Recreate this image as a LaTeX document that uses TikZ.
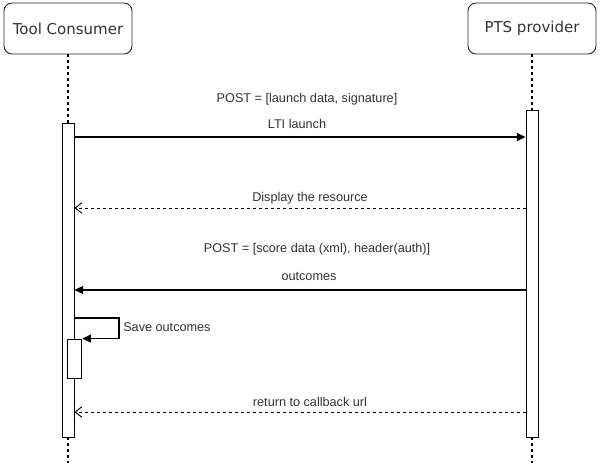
\documentclass[tikz,border=0pt]{standalone}
\usepackage{fontspec}
\setmainfont{Liberation Sans}
\newfontfamily\boxfont{DejaVu Sans}
\usepackage{tikz}
\usetikzlibrary{arrows.meta,positioning}
\definecolor{txtgrey}{rgb}{0.2,0.2,0.2}
\tikzset{
  actor/.style={rectangle,rounded corners=6pt,draw=black!85,line width=0.7pt,minimum width=96pt,minimum height=38.25pt,font=\boxfont\fontsize{11.25}{13}\selectfont,text=txtgrey},
  act/.style={rectangle,draw=black,line width=0.7pt,fill=white,minimum width=9pt,inner sep=0pt},
  life/.style={draw,line width=0.8pt,dash pattern=on 2.25pt off 2.25pt},
  msg/.style={draw,line width=0.9pt,-{Triangle[length=6.5pt,width=6pt]}},
  reply/.style={draw,line width=0.7pt,dash pattern=on 2.25pt off 2.25pt,-{Straight Barb[length=5pt,width=8pt]}},
  lbl/.style={font=\fontsize{9.5}{11}\selectfont,text=txtgrey,inner sep=0pt},
}
\begin{document}
\begin{tikzpicture}[x=0.75pt,y=-0.75pt]
  \useasboundingbox (0,0) rectangle (600,475);
  % actors
  \node[actor] (tc) at (68,28.5) {Tool Consumer};
  \node[actor] (pts) at (532,28.5) {PTS provider};
  % activation boxes
  \node[act,minimum height=235.5pt] (tcA) at (68,280) {};
  \node[act,minimum height=245.25pt] (ptsA) at (532,273.5) {};
  \node[act,minimum width=11pt,minimum height=29.25pt] (tcB) at (74.5,358.5) {};
  \coordinate (tcEnd) at (68,463);
  \coordinate (ptsEnd) at (532,463);
  % lifelines
  \path[life]
    (tc) -- (tcA)
    (tcA) -- (tcEnd)
    (pts) -- (ptsA)
    (ptsA) -- (ptsEnd);
  % messages
  \coordinate (m1) at (300,137);
  \coordinate (m2) at (300,208);
  \coordinate (m3) at (300,290);
  \coordinate (s1) at (119,318);
  \coordinate (m4) at (300,412);
  \draw[msg] (tcA.east |- m1) -- (ptsA.west |- m1);
  \draw[reply] (ptsA.west |- m2) -- (tcA.east |- m2);
  \draw[msg] (ptsA.west |- m3) -- (tcA.east |- m3);
  \draw[msg] (tcA.east |- s1) -- (s1) |- (tcB.north east);
  \draw[reply] (ptsA.west |- m4) -- (tcA.east |- m4);
  % labels
  \node[lbl] (l1) at (307,99) {POST = [launch data, signature]};
  \node[lbl] (l2) at (297,124) {LTI launch};
  \node[lbl] (l3) at (310,198) {Display the resource};
  \node[lbl] (l4) at (317,249) {POST = [score data (xml), header(auth)]};
  \node[lbl] (l5) at (309,276) {outcomes};
  \node[lbl,anchor=west] (l6) at (123,327) {Save outcomes};
  \node[lbl] (l7) at (310,402) {return to callback url};
\end{tikzpicture}
\end{document}
